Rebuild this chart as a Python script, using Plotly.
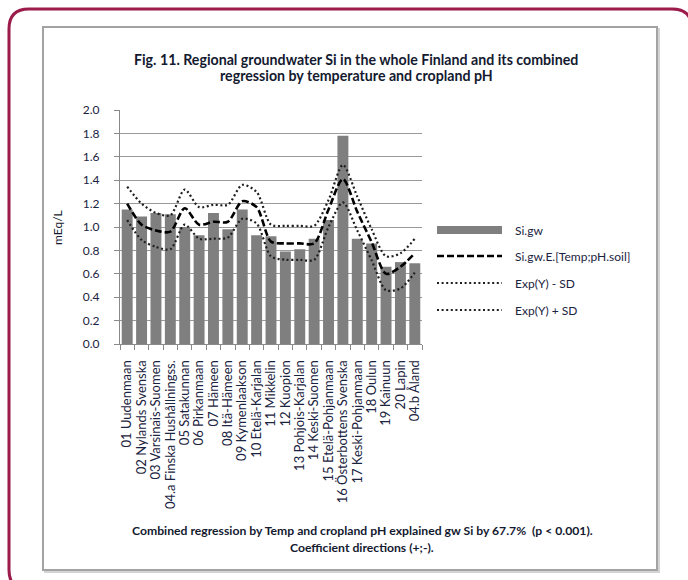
import plotly.graph_objects as go

# ---- data -------------------------------------------------------------
regions = [
    "01 Uudenmaan", "02 Nylands Svenska", "03 Varsinais-Suomen",
    "04.a Finska Hushållningss.", "05 Satakunnan", "06 Pirkanmaan",
    "07 Hämeen", "08 Itä-Hämeen", "09 Kymenlaakson", "10 Etelä-Karjalan",
    "11 Mikkelin", "12 Kuopion", "13 Pohjois-Karjalan", "14 Keski-Suomen",
    "15 Etelä-Pohjanmaan", "16 Österbottens Svenska", "17 Keski-Pohjanmaan",
    "18 Oulun", "19 Kainuun", "20 Lapin", "04.b Åland",
]
si_gw = [1.15, 1.09, 1.12, 1.11, 1.00, 0.93, 1.12, 0.98, 1.15, 0.93, 0.92,
         0.79, 0.81, 0.90, 1.06, 1.78, 0.90, 0.86, 0.66, 0.70, 0.69]
si_gw_est = [1.20, 1.02, 0.97, 0.96, 1.16, 1.02, 1.045, 1.045, 1.22, 1.17, 0.875,
             0.86, 0.86, 0.86, 1.15, 1.41, 1.13, 0.87, 0.60, 0.66, 0.775]
exp_minus_sd = [1.06, 0.89, 0.83, 0.81, 1.02, 0.90, 0.90, 0.91, 1.07, 1.03, 0.75,
                0.72, 0.72, 0.72, 1.00, 1.21, 0.97, 0.715, 0.46, 0.475, 0.61]
exp_plus_sd = [1.345, 1.20, 1.12, 1.10, 1.32, 1.17, 1.19, 1.19, 1.36, 1.30, 1.02,
               1.01, 1.01, 1.01, 1.23, 1.53, 1.26, 0.98, 0.75, 0.775, 0.90]
y_ticks = [0.0, 0.2, 0.4, 0.6, 0.8, 1.0, 1.2, 1.4, 1.6, 1.8, 2.0]

series_names = ["Si.gw", "Si.gw.E.[Temp;pH.soil]", "Exp(Y) - SD", "Exp(Y) + SD"]
title_lines = [
    "Fig. 11. Regional groundwater Si in the whole Finland and its combined",
    "regression by temperature and cropland pH",
]
note_lines = [
    "Combined regression by Temp and cropland pH explained gw Si by 67.7%  (p < 0.001).",
    "Coefficient directions (+;-).",
]

# ---- geometry helpers (pixel -> paper units) ---------------------------
FIG_W, FIG_H = 688, 580
PL, PR, PT, PB = 120, 422, 110, 344


def px(x):
    return (x - PL) / (PR - PL)


def py(y):
    return (PB - y) / (PB - PT)


FONT = "Lato, 'Open Sans', sans-serif"
TXT = "#1a2340"
DARK = "#141a30"
BAR = "#7f7f7f"
GRID = "#9a9a9a"

fig = go.Figure()
fig.add_trace(go.Bar(x=regions, y=si_gw, name=series_names[0],
                     marker=dict(color=BAR, line=dict(width=0)), showlegend=False))
fig.add_trace(go.Scatter(x=regions, y=si_gw_est, name=series_names[1], mode="lines",
                         line=dict(color="black", width=2.6, dash="7px,3px",
                                   shape="spline", smoothing=0.8),
                         showlegend=False))
fig.add_trace(go.Scatter(x=regions, y=exp_minus_sd, name=series_names[2], mode="lines",
                         line=dict(color="#1e1e1e", width=2.2, dash="2px,2.6px",
                                   shape="spline", smoothing=0.8),
                         showlegend=False))
fig.add_trace(go.Scatter(x=regions, y=exp_plus_sd, name=series_names[3], mode="lines",
                         line=dict(color="#1e1e1e", width=2.2, dash="2px,2.6px",
                                   shape="spline", smoothing=0.8),
                         showlegend=False))

shapes = []
annotations = []

# outer rounded frame
x0, y0, x1, y1, r = 9, 9, 692, 590, 20
pts = [
    ("M", [(x0 + r, y0)]), ("L", [(x1 - r, y0)]), ("Q", [(x1, y0), (x1, y0 + r)]),
    ("L", [(x1, y1 - r)]), ("Q", [(x1, y1), (x1 - r, y1)]),
    ("L", [(x0 + r, y1)]), ("Q", [(x0, y1), (x0, y1 - r)]),
    ("L", [(x0, y0 + r)]), ("Q", [(x0, y0), (x0 + r, y0)]),
]
path = " ".join(cmd + " " + " ".join(f"{px(a):.5f},{py(b):.5f}" for a, b in c) for cmd, c in pts) + " Z"
shapes.append(dict(type="path", path=path, xref="paper", yref="paper",
                   line=dict(color="#9b1b4b", width=3), layer="below"))

# inner chart box with a soft shadow
shapes.append(dict(type="rect", xref="paper", yref="paper",
                   x0=px(45), x1=px(659), y0=py(29), y1=py(572),
                   line=dict(color="#d4d4d4", width=2), layer="below"))
shapes.append(dict(type="rect", xref="paper", yref="paper",
                   x0=px(43), x1=px(657), y0=py(27), y1=py(570),
                   line=dict(color="#a3a3a3", width=2), fillcolor="white", layer="below"))

# legend
LX0, LX1, LT = 437, 502, 513
leg_y = [230, 256, 283, 310]
shapes.append(dict(type="rect", xref="paper", yref="paper",
                   x0=px(LX0), x1=px(LX1), y0=py(leg_y[0] - 4), y1=py(leg_y[0] + 4),
                   fillcolor=BAR, line=dict(width=0)))
shapes.append(dict(type="line", xref="paper", yref="paper",
                   x0=px(LX0), x1=px(LX1), y0=py(leg_y[1]), y1=py(leg_y[1]),
                   line=dict(color="black", width=2.6, dash="7px,3px")))
for yy in leg_y[2:]:
    shapes.append(dict(type="line", xref="paper", yref="paper",
                       x0=px(LX0), x1=px(LX1), y0=py(yy), y1=py(yy),
                       line=dict(color="#1e1e1e", width=2.2, dash="2px,2.6px")))
for name, yy in zip(series_names, leg_y):
    annotations.append(dict(text=name, xref="paper", yref="paper", x=px(LT), y=py(yy),
                            xanchor="left", yanchor="middle", showarrow=False,
                            font=dict(family=FONT, size=12, color=TXT)))

# title
for line, yy in zip(title_lines, [59, 75]):
    annotations.append(dict(text=f"<b>{line}</b>", xref="paper", yref="paper",
                            x=px(356), y=py(yy), xanchor="center", yanchor="middle",
                            showarrow=False, font=dict(family=FONT, size=14.2, color=DARK)))

# footnote
for line, yy in zip(note_lines, [530, 547]):
    annotations.append(dict(text=f"<b>{line}</b>", xref="paper", yref="paper",
                            x=px(362), y=py(yy), xanchor="center", yanchor="middle",
                            showarrow=False, font=dict(family=FONT, size=12.2, color=DARK)))

# y axis title
annotations.append(dict(text="mEq/L", xref="paper", yref="paper", x=px(57), y=py(228),
                        textangle=-90, xanchor="center", yanchor="middle", showarrow=False,
                        font=dict(family=FONT, size=12, color=DARK)))

fig.update_layout(
    width=FIG_W, height=FIG_H,
    margin=dict(l=PL, r=FIG_W - PR, t=PT, b=FIG_H - PB, autoexpand=False),
    paper_bgcolor="white", plot_bgcolor="white",
    bargap=0.24,
    showlegend=False,
    shapes=shapes, annotations=annotations,
    font=dict(family=FONT, color=TXT),
)
fig.update_xaxes(type="category", tickmode="array", tickvals=regions, ticktext=regions,
                 tickangle=-90, tickson="boundaries",
                 ticks="outside", ticklen=5, tickcolor="#8a8a8a",
                 showline=True, linecolor="#8a8a8a", linewidth=1,
                 showgrid=False, ticklabelstandoff=10,
                 tickfont=dict(family=FONT, size=13, color=TXT))
fig.update_yaxes(range=[0, 2.0], tickvals=y_ticks, tickformat=".1f",
                 ticks="outside", ticklen=5, tickcolor="#8a8a8a",
                 showline=True, linecolor="#8a8a8a", linewidth=1,
                 showgrid=True, gridcolor=GRID, gridwidth=1, zeroline=False,
                 ticklabelstandoff=12,
                 tickfont=dict(family=FONT, size=12, color=TXT))

fig.write_html("out.html")
